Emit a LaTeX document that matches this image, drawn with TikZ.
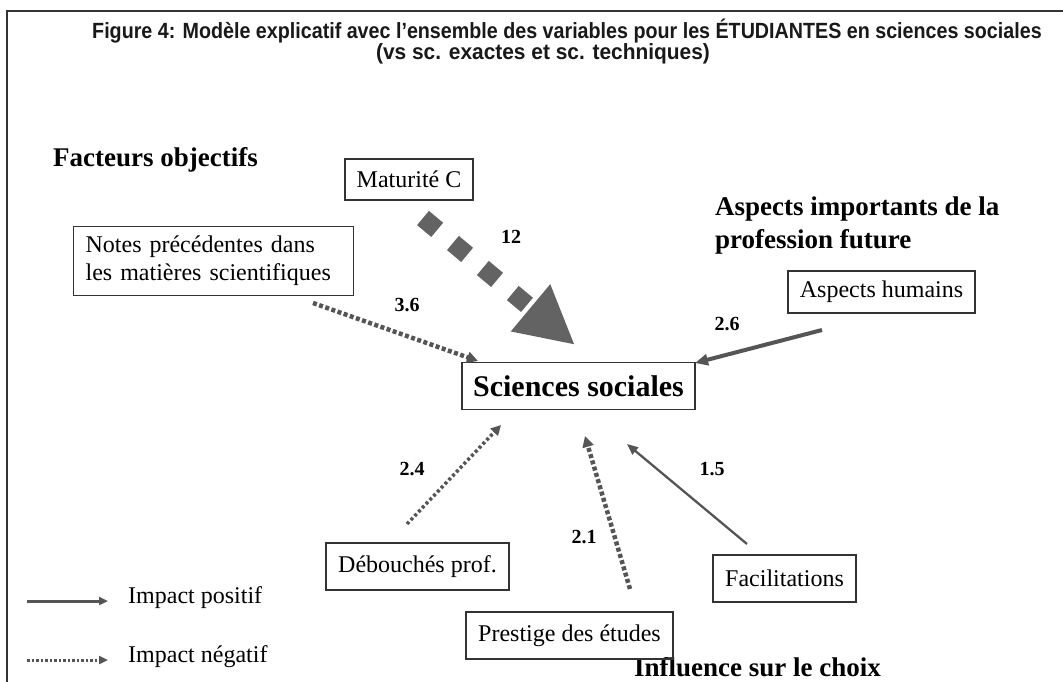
\documentclass[tikz,border=0pt]{standalone}
\usepackage{fontspec}
\usepackage{graphicx}
\setmainfont{Liberation Serif}
\setsansfont{Liberation Sans}
\usetikzlibrary{arrows.meta}
\definecolor{framec}{HTML}{333333}
\definecolor{arrc}{HTML}{555555}
\definecolor{diac}{HTML}{636363}
\begin{document}
\begin{tikzpicture}[x=1pt,y=-1pt,
  titlef/.style={font=\fontsize{22}{25}\selectfont\bfseries\sffamily,inner sep=0pt,text=black!90},
  box/.style={draw=framec,line width=1.2pt,inner sep=0pt,font=\fontsize{24}{28}\selectfont,text=black},
  head/.style={font=\fontsize{27}{33}\selectfont\bfseries,inner sep=0pt,text=black},
  lab/.style={font=\fontsize{20}{24}\selectfont\bfseries,inner sep=0pt,text=black},
  legtext/.style={font=\fontsize{24}{28}\selectfont,inner sep=0pt,anchor=west,text=black},
  dots/.style={draw=arrc,line width=4.5pt,dash pattern=on 4pt off 2.5pt,-{Triangle[length=11pt,width=11pt]}},
  thindots/.style={draw=arrc,line width=3.5pt,dash pattern=on 3pt off 2.5pt,-{Triangle[length=10pt,width=10pt]}},
  solidarr/.style={draw=arrc,line width=4pt,-{Triangle[length=13pt,width=11pt]}},
  thinarr/.style={draw=arrc,line width=2.3pt,-{Triangle[length=11pt,width=9pt]}}]
\useasboundingbox (0,0) rectangle (1063,682);
\fill[white] (0,0) rectangle (1063,682);
% frame
\draw[framec,line width=2pt] (1063,11) -- (7,11) -- (7,682);
% title
\node[titlef] (t1) at (567,31) {\scalebox{0.895}[1]{Figure 4: Modèle explicatif avec l’ensemble des variables pour les ÉTUDIANTES en sciences sociales}};
\node[titlef] (t2) at (543,54) {\scalebox{0.95}[1]{(vs sc. exactes et sc. techniques)}};
% headings
\node[head,anchor=west] (h1) at (53,160) {Facteurs objectifs};
\node[head,anchor=north west,align=left] (h2) at (715,197) {Aspects importants de la\\profession future};
\node[head] (h3) at (757.5,667) {Influence sur le choix};
% boxes
\node[box,minimum width=128pt,minimum height=41pt] (mat) at (409,179.5) {Maturité C};
\node[box,anchor=north west,text width=256pt,inner xsep=12pt,minimum height=69pt,align=left] (notes) at (73,226) {Notes précédentes dans\\les matières scientifiques};
\node[box,minimum width=233pt,minimum height=47pt,font=\fontsize{30}{34}\selectfont\bfseries] (sci) at (578.5,386) {Sciences sociales};
\node[box,minimum width=187pt,minimum height=42pt] (hum) at (881.5,292) {Aspects humains};
\node[box,minimum width=183pt,minimum height=47pt] (deb) at (417.5,566.5) {Débouchés prof.};
\node[box,minimum width=207pt,minimum height=47pt] (pres) at (569.5,635.5) {Prestige des études};
\node[box,minimum width=143pt,minimum height=47pt] (fac) at (784.5,578.5) {Facilitations};
% connector end points
\coordinate (matA) at (423,218);
\coordinate (matB) at (575,345);
\coordinate (notA) at (313,303);
\coordinate (notB) at (478,361);
\coordinate (humA) at (822,330);
\coordinate (humB) at (695,363);
\coordinate (debA) at (407,524);
\coordinate (debB) at (501,425);
\coordinate (preA) at (630,589);
\coordinate (preB) at (585,436);
\coordinate (facA) at (747,544);
\coordinate (facB) at (627,444);
% connectors
\draw[diac,line width=18.5pt,dash pattern=on 18.5pt off 20.5pt,-{Triangle[length=58pt,width=57pt]}] (matA) -- (matB);
\draw[dots] (notA) -- (notB);
\draw[solidarr] (humA) -- (humB);
\draw[thindots] (debA) -- (debB);
\draw[dots] (preA) -- (preB);
\draw[thinarr] (facA) -- (facB);
% labels
\node[lab] (l12) at (511,237) {12};
\node[lab] (l36) at (407,305) {3.6};
\node[lab] (l26) at (727,324) {2.6};
\node[lab] (l24) at (412,469) {2.4};
\node[lab] (l21) at (584,537) {2.1};
\node[lab] (l15) at (712,469) {1.5};
% legend
\coordinate (lgA1) at (27,601);
\coordinate (lgB1) at (108,601);
\coordinate (lgA2) at (27,660);
\coordinate (lgB2) at (108,660);
\draw[draw=arrc,line width=3pt,-{Triangle[length=9pt,width=8pt]}] (lgA1) -- (lgB1);
\draw[draw=arrc,line width=3pt,dash pattern=on 2.5pt off 2pt,-{Triangle[length=9pt,width=8pt]}] (lgA2) -- (lgB2);
\node[legtext] (lt1) at (128,598) {Impact positif};
\node[legtext] (lt2) at (128,657) {Impact négatif};
\end{tikzpicture}
\end{document}
